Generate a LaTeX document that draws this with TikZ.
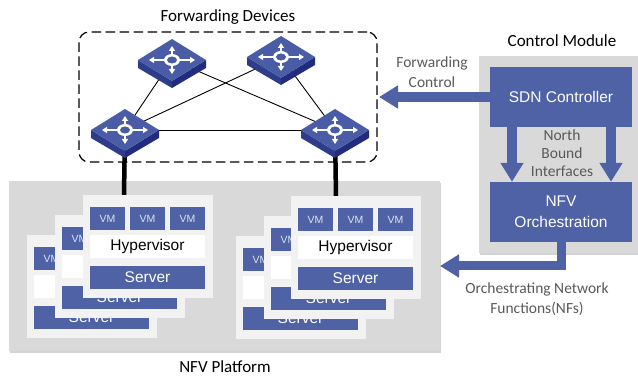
\documentclass[tikz,border=0pt]{standalone}
\usepackage{fontspec}
\setmainfont{Carlito}
\newfontfamily\boxfont{Liberation Sans}
\usepackage{tikz}
\usetikzlibrary{calc}
\usetikzlibrary{arrows.meta,shadows}
\definecolor{boxblue}{HTML}{4F62A5}
\definecolor{swtop}{HTML}{4A5CA6}
\definecolor{swleft}{HTML}{2E3C8C}
\definecolor{swright}{HTML}{222C7E}
\definecolor{panelgray}{HTML}{D9D9D9}
\definecolor{hostgray}{HTML}{F2F2F2}
\definecolor{labelgray}{HTML}{595959}
\definecolor{vmtext}{HTML}{DDE2F0}
\tikzset{
  panel/.style={fill=panelgray, inner sep=0pt, outer sep=0pt, drop shadow={shadow xshift=1pt, shadow yshift=-2pt, opacity=.35}},
  hostbox/.style={fill=hostgray, inner sep=0pt, minimum width=130pt, minimum height=103pt},
  vmbox/.style={fill=boxblue, text=vmtext, inner sep=0pt, minimum width=35pt, minimum height=23pt, font=\boxfont\fontsize{10.5}{12}\selectfont},
  hyperbox/.style={fill=white, text=black, inner sep=0pt, minimum width=115pt, minimum height=23pt, font=\boxfont\fontsize{15.5}{18}\selectfont},
  serverbox/.style={fill=boxblue, text=white, inner sep=0pt, minimum width=115pt, minimum height=23pt, font=\boxfont\fontsize{15.5}{18}\selectfont},
  ctrlbox/.style={fill=boxblue, text=white, inner sep=0pt, minimum width=142pt, minimum height=60pt, align=center, font=\boxfont\fontsize{15.5}{21}\selectfont},
  title/.style={text=black, inner sep=0pt, font=\fontsize{17}{20}\selectfont},
  note/.style={text=labelgray, inner sep=0pt, align=center, font=\fontsize{15.5}{20}\selectfont},
  blockarrow/.style={draw=boxblue, line width=10pt, -{Triangle[length=19pt,width=22pt]}},
  swnode/.style={inner sep=0pt, minimum width=68pt, minimum height=42pt},
  pics/fwdswitch/.style={code={
    \fill[swleft] (-34,0) -- (0,21) -- (0,28) -- (-34,8) -- cycle;
    \fill[swright] (34,0) -- (0,21) -- (0,28) -- (34,8) -- cycle;
    \fill[swtop] (-34,0) -- (0,-21) -- (34,0) -- (0,21) -- cycle;
    \draw[white, line width=1.6pt, {Triangle[length=5pt,width=6pt]}-{Triangle[length=5pt,width=6pt]}] (-23,0) -- (23,0);
    \draw[white, line width=1.6pt, {Triangle[length=5pt,width=6pt]}-{Triangle[length=5pt,width=6pt]}] (0,-14) -- (0,14);
    \fill[white] (0,0) ellipse [x radius=8, y radius=6];
    \fill[swtop] (0,0) ellipse [x radius=5, y radius=3.5];
  }}
}
% one host: box, three VMs, hypervisor, server
\newcommand{\hostunit}[3]{
\node[hostbox] (host#1) at (#2+65, #3+51.5) {};
\node[vmbox] (vm#1a) at (#2+24.5, #3+23.5) {VM};
\node[vmbox] (vm#1b) at (#2+64.5, #3+23.5) {VM};
\node[vmbox] (vm#1c) at (#2+104.5, #3+23.5) {VM};
\node[hyperbox] (hyper#1) at (#2+64.5, #3+51.5) {Hypervisor};
\node[serverbox] (server#1) at (#2+64.5, #3+82.5) {Server};
}

\begin{document}
\begin{tikzpicture}[x=1pt, y=-1pt]
\useasboundingbox (0,0) rectangle (638,377);
\node[title] (fwdtitle) at (228, 17) {Forwarding Devices};
\node[title] (ctrltitle) at (562, 41) {Control Module};
\node[title] (nfvtitle) at (225, 367) {NFV Platform};
% panels
\node[panel, minimum width=431pt, minimum height=170pt] (platform) at (224.5, 266) {};
\node[panel, minimum width=162pt, minimum height=197pt] (ctrlpanel) at (560, 154.5) {};
\node[draw, rounded corners=10pt, line width=1.2pt, dash pattern=on 9.5pt off 4.5pt, inner sep=0pt, minimum width=298pt, minimum height=130pt] (fwdbox) at (228, 97) {};
% switches
\node[swnode] (swa) at (172, 60) {};
\node[swnode] (swb) at (281, 57) {};
\node[swnode] (swc) at (125, 130) {};
\node[swnode] (swd) at (335, 130) {};
\draw[line width=0.9pt] (swa.center) -- (swc.center);
\draw[line width=0.9pt] (swa.center) -- (swd.center);
\draw[line width=0.9pt] (swb.center) -- (swc.center);
\draw[line width=0.9pt] (swb.center) -- (swd.center);
\draw[line width=0.9pt] (swc.center) -- (swd.center);
\coordinate (linkc) at (124, 195);
\coordinate (linkd) at (336, 196);
\draw[line width=4.5pt] (swc.center) -- (linkc);
\draw[line width=4.5pt] (swd.center) -- (linkd);
\foreach \swname in {swa,swb,swc,swd} {
  \pic at (\swname) {fwdswitch};
}
% server stacks
\hostunit{la}{27}{235}
\hostunit{lb}{55}{215}
\hostunit{lc}{83}{195}
\hostunit{ra}{236}{236}
\hostunit{rb}{264}{216}
\hostunit{rc}{291}{196}
% control module
\node[ctrlbox] (sdn) at (561, 97) {SDN Controller};
\node[ctrlbox] (nfv) at (561, 212) {NFV\\Orchestration};
\node[note, font=\fontsize{15.5}{18}\selectfont] (nbi) at (562, 153) {North\\Bound\\Interfaces};
\node[note] (fwdnote) at (432, 72) {Forwarding\\Control};
\node[note] (orchnote) at (537, 299.5) {Orchestrating Network\\Functions(NFs)};
\coordinate (fwdtip) at (379, 97);
\draw[blockarrow] (sdn.west) -- (fwdtip);
\draw[blockarrow] ([xshift=-49pt]sdn.south) -- ([xshift=-49pt]nfv.north);
\draw[blockarrow] ([xshift=50pt]sdn.south) -- ([xshift=50pt]nfv.north);
\draw[blockarrow, line width=9pt] (nfv.south) |- (platform.east);
\end{tikzpicture}
\end{document}
